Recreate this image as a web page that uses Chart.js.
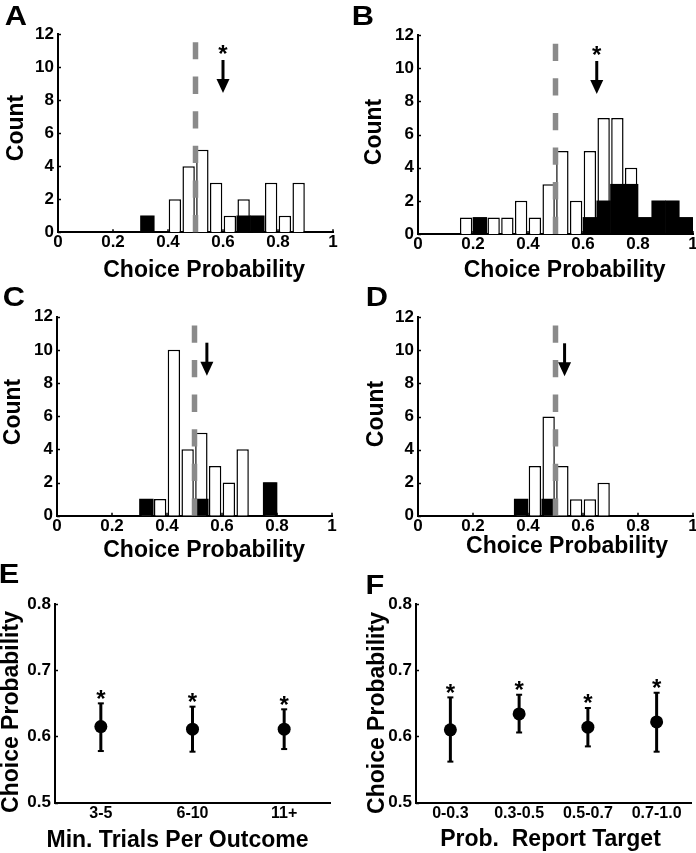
<!DOCTYPE html>
<html><head><meta charset="utf-8">
<script src="https://cdn.jsdelivr.net/npm/chart.js@4"></script>
<style>
html,body{margin:0;padding:0;background:#fff;overflow:hidden;width:696px;height:853px;}
body{position:relative;}
canvas{position:absolute;}
.t{position:absolute;font-family:'Liberation Sans',Arial,Helvetica,sans-serif;font-weight:bold;color:#000;white-space:pre;line-height:1;}
</style></head><body>
<script>
// ---------- DATA ----------
const binLabels = ['0-0.05','0.05-0.10','0.10-0.15','0.15-0.20','0.20-0.25','0.25-0.30','0.30-0.35','0.35-0.40','0.40-0.45','0.45-0.50',
                   '0.50-0.55','0.55-0.60','0.60-0.65','0.65-0.70','0.70-0.75','0.75-0.80','0.80-0.85','0.85-0.90','0.90-0.95','0.95-1.00'];
const histXTicks = [0, 0.2, 0.4, 0.6, 0.8, 1];
const histXTickLabels = ['0', '0.2', '0.4', '0.6', '0.8', '1'];
const countTicks = [0, 2, 4, 6, 8, 10, 12];

const countA_all   = [0,0,0,0,0,0,1,0,2,4,5,3,1,2,1,3,1,3,0,0];
const countA_black = [0,0,0,0,0,0,1,0,0,0,0,0,0,1,1,0,0,0,0,0];
const countB_all   = [0,0,0,1,1,1,1,2,1,3,5,2,5,7,7,4,1,2,2,1];
const countB_black = [0,0,0,0,1,0,0,0,0,0,0,0,1,2,3,3,1,2,2,1];
const countC_all   = [0,0,0,0,0,0,1,1,10,4,5,3,2,4,0,2,0,0,0,0];
const countC_black = [0,0,0,0,0,0,1,0,0,0,1,0,0,0,0,2,0,0,0,0];
const countD_all   = [0,0,0,0,0,0,0,1,3,6,3,1,1,2,0,0,0,0,0,0];
const countD_black = [0,0,0,0,0,0,0,1,0,1,0,0,0,0,0,0,0,0,0,0];

const meanCP      = [0.60, 0.65, 0.545, 0.533];   // arrows, panels A-D
const meanSig     = [true, true, false, false];   // asterisk above arrow
const chanceLevel = 0.5;
const chanceTop   = 11.5;                          // top of dashed line (count units)

const cpTicks = [0.5, 0.6, 0.7, 0.8];
const catE  = ['3-5', '6-10', '11+'];
const meanE = [0.615, 0.611, 0.611];
const loE   = [0.578, 0.577, 0.581];
const hiE   = [0.650, 0.645, 0.641];
const sigE  = [true, true, true];

const catF  = ['0-0.3', '0.3-0.5', '0.5-0.7', '0.7-1.0'];
const meanF = [0.610, 0.634, 0.614, 0.622];
const loF   = [0.562, 0.606, 0.585, 0.577];
const hiF   = [0.659, 0.663, 0.643, 0.666];
const sigF  = [true, true, true, true];

// ---------- SETUP ----------
const FONT = "'Liberation Sans', Arial, Helvetica, sans-serif";
Chart.defaults.font.family = FONT;
Chart.defaults.font.weight = 'bold';
Chart.defaults.color = '#000';

function makeCanvas(x, y, w, h) {
  const c = document.createElement('canvas');
  c.width = w; c.height = h;
  c.style.left = x + 'px'; c.style.top = y + 'px';
  c.style.width = w + 'px'; c.style.height = h + 'px';
  document.body.appendChild(c);
  return c;
}
function txt(s, cx, cy, size, rot, sx) {
  const d = document.createElement('div');
  d.className = 't';
  d.textContent = s;
  d.style.fontSize = size + 'px';
  d.style.left = cx + 'px';
  d.style.top = cy + 'px';
  d.style.transform = 'translate(-50%,-50%)' + (rot ? ' rotate(' + rot + 'deg)' : '') + (sx ? ' scaleX(' + sx + ')' : '');
  document.body.appendChild(d);
}
function line(ctx, x1, y1, x2, y2) { ctx.beginPath(); ctx.moveTo(x1, y1); ctx.lineTo(x2, y2); ctx.stroke(); }
const nz = v => (v ? v : null);

const histOverlay = {
  id: 'histOverlay',
  afterDatasetsDraw(chart, args, o) {
    const ctx = chart.ctx, xs = chart.scales.x2, ys = chart.scales.y, a = chart.chartArea;
    ctx.save();
    ctx.strokeStyle = '#000'; ctx.lineWidth = 1.5;
    ys.ticks.forEach(t => { const p = Math.round(ys.getPixelForValue(t.value)) + 0.5; line(ctx, a.left, p, a.left + 3, p); });
    xs.ticks.forEach(t => { const p = Math.round(xs.getPixelForValue(t.value)); line(ctx, p, a.bottom, p, a.bottom - 3); });
    // chance line
    const cx = xs.getPixelForValue(o.chance);
    ctx.strokeStyle = '#8a8a8a'; ctx.lineWidth = 5.5; ctx.lineCap = 'butt';
    ctx.setLineDash([17.3, 17.3]);
    line(ctx, cx, ys.getPixelForValue(0), cx, ys.getPixelForValue(o.top));
    ctx.setLineDash([]);
    // mean arrow
    const ax = xs.getPixelForValue(o.mean);
    const tail = a.top + 26, tip = a.top + 59;
    ctx.strokeStyle = '#000'; ctx.fillStyle = '#000'; ctx.lineWidth = 3;
    line(ctx, ax, tail, ax, tip - 12);
    ctx.beginPath(); ctx.moveTo(ax - 6.5, tip - 14); ctx.lineTo(ax + 6.5, tip - 14); ctx.lineTo(ax, tip); ctx.closePath(); ctx.fill();
    if (o.sig) {
      ctx.font = 'bold 24px ' + FONT; ctx.textAlign = 'center'; ctx.textBaseline = 'alphabetic';
      ctx.fillText('*', ax, a.top + 15 + 0.56 * 24);
    }
    ctx.restore();
  }
};

const errOverlay = {
  id: 'errOverlay',
  beforeDatasetsDraw(chart, args, o) {
    const ctx = chart.ctx, xs = chart.scales.x, ys = chart.scales.y;
    ctx.save(); ctx.strokeStyle = '#000';
    o.lo.forEach((lo, i) => {
      const x = xs.getPixelForValue(i), y1 = ys.getPixelForValue(lo), y2 = ys.getPixelForValue(o.hi[i]);
      ctx.lineWidth = 3; line(ctx, x, y1, x, y2);
      ctx.lineWidth = 2; line(ctx, x - 3, y1, x + 3, y1); line(ctx, x - 3, y2, x + 3, y2);
    });
    ctx.restore();
  },
  afterDatasetsDraw(chart, args, o) {
    const ctx = chart.ctx, xs = chart.scales.x, ys = chart.scales.y, a = chart.chartArea;
    ctx.save(); ctx.strokeStyle = '#000'; ctx.fillStyle = '#000'; ctx.lineWidth = 1.5;
    ys.ticks.forEach(t => { const p = Math.round(ys.getPixelForValue(t.value)) + 0.5; line(ctx, a.left, p, a.left + 3, p); });
    ctx.font = 'bold 24px ' + FONT; ctx.textAlign = 'center'; ctx.textBaseline = 'alphabetic';
    o.hi.forEach((hi, i) => {
      if (!o.sig[i]) return;
      const x = xs.getPixelForValue(i), y = ys.getPixelForValue(hi);
      ctx.fillText('*', x, y - 10 + 0.56 * 24);
    });
    ctx.restore();
  }
};

const axisBorder = { display: true, color: '#000', width: 2 };

function histChart(g, all, black, k) {
  const c = makeCanvas(g.cx, g.cy, g.cw, g.ch);
  const L = g.L - g.cx, T = g.T - g.cy, R = g.R - g.cx, B = g.B - g.cy, xh = 30;
  new Chart(c, {
    type: 'bar',
    data: { labels: binLabels, datasets: [
      { data: black.map(nz), backgroundColor: '#000', borderColor: '#000', borderWidth: 0,
        barPercentage: 1, categoryPercentage: 1, grouped: false, order: 0 },
      { data: all.map(nz), backgroundColor: '#fff', borderColor: '#000', borderWidth: 1.5,
        barPercentage: 0.9, categoryPercentage: 1, grouped: false, order: 1 }
    ]},
    options: {
      responsive: false, animation: false, events: [],
      layout: { padding: { left: 0, top: T, right: g.cw - R, bottom: g.ch - B - xh } },
      plugins: { legend: { display: false }, tooltip: { enabled: false },
        histOverlay: { chance: chanceLevel, top: chanceTop, mean: meanCP[k], sig: meanSig[k] } },
      scales: {
        x: { type: 'category', display: false, offset: true },
        x2: { type: 'linear', position: 'bottom', min: 0, max: 1, offset: false,
          afterBuildTicks: s => { s.ticks = histXTicks.map(v => ({ value: v })); },
          afterFit: s => { s.height = xh; },
          grid: { display: false, drawTicks: false, offset: false }, border: axisBorder,
          ticks: { padding: 0, autoSkip: false, maxRotation: 0, font: { size: 17, weight: 'bold' }, color: '#000',
            callback: (v, i) => histXTickLabels[i] } },
        y: { type: 'linear', min: 0, max: 12,
          afterBuildTicks: s => { s.ticks = countTicks.map(v => ({ value: v })); },
          afterFit: s => { s.width = L; },
          grid: { display: false, drawTicks: false }, border: axisBorder,
          ticks: { padding: 4, font: { size: 17, weight: 'bold' }, color: '#000' } }
      }
    },
    plugins: [histOverlay]
  });
}

function errChart(g, cats, mean, lo, hi, sig) {
  const c = makeCanvas(g.cx, g.cy, g.cw, g.ch);
  const L = g.L - g.cx, T = g.T - g.cy, R = g.R - g.cx, B = g.B - g.cy, xh = 25;
  new Chart(c, {
    type: 'line',
    data: { labels: cats, datasets: [
      { data: mean, showLine: false, pointRadius: 6.5, pointBackgroundColor: '#000',
        pointBorderColor: '#000', pointBorderWidth: 0 }
    ]},
    options: {
      responsive: false, animation: false, events: [],
      layout: { padding: { left: 0, top: T, right: g.cw - R, bottom: g.ch - B - xh } },
      plugins: { legend: { display: false }, tooltip: { enabled: false },
        errOverlay: { lo: lo, hi: hi, sig: sig } },
      scales: {
        x: { type: 'category', offset: true,
          afterFit: s => { s.height = xh; },
          grid: { display: false, drawTicks: false }, border: axisBorder,
          ticks: { padding: 1, autoSkip: false, maxRotation: 0, font: { size: 16, weight: 'bold' }, color: '#000' } },
        y: { type: 'linear', min: 0.5, max: 0.8,
          afterBuildTicks: s => { s.ticks = cpTicks.map(v => ({ value: v })); },
          afterFit: s => { s.width = L; },
          grid: { display: false, drawTicks: false }, border: axisBorder,
          ticks: { padding: 4, font: { size: 17, weight: 'bold' }, color: '#000', callback: v => v.toFixed(1) } }
      }
    },
    plugins: [errOverlay]
  });
}

// ---------- PANELS ----------
histChart({ cx: 0,   cy: 0,   cw: 348, ch: 290, L: 58,  T: 34,    R: 333, B: 232.3 }, countA_all, countA_black, 0);
histChart({ cx: 348, cy: 0,   cw: 372, ch: 290, L: 418, T: 35,    R: 693, B: 234 },   countB_all, countB_black, 1);
histChart({ cx: 0,   cy: 290, cw: 348, ch: 290, L: 57,  T: 316.7, R: 332, B: 515.7 }, countC_all, countC_black, 2);
histChart({ cx: 348, cy: 290, cw: 372, ch: 290, L: 418, T: 317.3, R: 693, B: 515.7 }, countD_all, countD_black, 3);
errChart({ cx: 0,   cy: 580, cw: 348, ch: 273, L: 55,  T: 604, R: 330, B: 802.7 }, catE, meanE, loE, hiE, sigE);
errChart({ cx: 348, cy: 580, cw: 372, ch: 273, L: 416, T: 604, R: 691, B: 802.7 }, catF, meanF, loF, hiF, sigF);

// ---------- TEXT ----------
txt('A', 16, 15.8, 28, 0, 1.1);
txt('B', 362.5, 16.3, 28, 0, 1.1);
txt('C', 14, 296.8, 28, 0, 1.1);
txt('D', 376.5, 297.3, 28, 0, 1.1);
txt('E', 9, 574.3, 28, 0, 1.1);
txt('F', 375, 585.3, 28, 0, 1.1);

txt('Choice Probability', 204.2, 268.7, 23);
txt('Choice Probability', 564.7, 269, 23);
txt('Choice Probability', 204.2, 548.7, 23);
txt('Choice Probability', 567, 545.3, 23);
txt('Min. Trials Per Outcome', 177.5, 838.7, 23);
txt('Prob.  Report Target', 550.5, 837.5, 23);

txt('Count', 15.3, 128.3, 23, -90);
txt('Count', 373.3, 131.7, 23, -90);
txt('Count', 12, 411.7, 23, -90);
txt('Count', 375, 414, 23, -90);
txt('Choice Probability', 9.5, 711.7, 23, -90);
txt('Choice Probability', 376, 713, 23, -90);
</script>
</body></html>
